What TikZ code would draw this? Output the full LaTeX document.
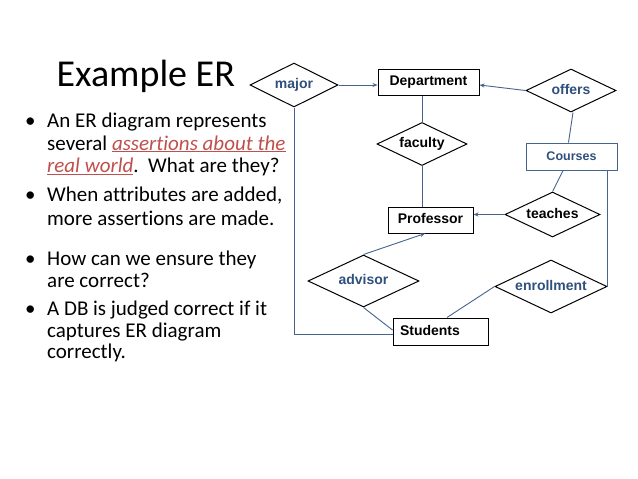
\documentclass[tikz,border=0pt]{standalone}
\usepackage{fontspec}
\setmainfont{Carlito}[Ligatures=NoCommon]
\newfontfamily\arialf{Liberation Sans}
\usetikzlibrary{shapes.geometric,arrows.meta,calc}
\definecolor{lineblue}{RGB}{70,100,140}
\definecolor{labblue}{RGB}{47,80,125}
\definecolor{redtxt}{RGB}{192,80,77}
\begin{document}
\begin{tikzpicture}[x=1pt,y=-1pt,
  ent/.style={draw=black,line width=1pt,rectangle,inner sep=0pt,
    text height=10pt,text depth=3pt,
    font=\arialf\bfseries\fontsize{14}{16}\selectfont},
  rel/.style={draw=black,line width=1pt,diamond,aspect=2,inner sep=0pt,
    text height=10pt,text depth=3pt,
    font=\arialf\bfseries\fontsize{14}{16}\selectfont},
  bluelab/.style={text=labblue},
  conn/.style={draw=lineblue,line width=0.9pt},
  arr/.style={conn,-{Stealth[length=5pt,width=4pt]}},
  body/.style={anchor=base west,inner sep=0pt,font=\fontsize{21}{25}\selectfont}]
\fill[white] (0,0) rectangle (638,479);
\useasboundingbox (0,0) rectangle (638,479);

% left text
\node[body] (title) at (56.5,86) {\fontsize{38}{45}\selectfont Example ER};
\node[body] (bu1) at (25,127) {\textbullet};
\node[body] (bu2) at (25,201.5) {\textbullet};
\node[body] (bu3) at (25,265) {\textbullet};
\node[body] (bu4) at (25,315) {\textbullet};
\node[body] (l1) at (47,127) {An ER diagram represents};
\node[body] (l2) at (47,150) {several \textcolor{redtxt}{\itshape\underline{assertions about the}}};
\node[body] (l3) at (47,172.5) {\textcolor{redtxt}{\itshape\underline{real world}}.\ \ What are they?};
\node[body] (l4) at (47,201.5) {When attributes are added,};
\node[body] (l5) at (47,225) {more assertions are made.};
\node[body] (l6) at (47,265) {How can we ensure they};
\node[body] (l7) at (47,287) {are correct?};
\node[body] (l8) at (47,315) {A DB is judged correct if it};
\node[body] (l9) at (47,337) {captures ER diagram};
\node[body] (l10) at (47,358.5) {correctly.};

% entities
\node[ent,minimum width=101pt,minimum height=26pt] (dept) at (428.5,82) {Department};
\node[ent,minimum width=85pt,minimum height=26pt] (prof) at (430.5,220) {Professor};
\node[ent,minimum height=27pt,inner xsep=7pt,text width=81pt,align=left] (stud) at (440.5,331.5) {Students};
\node[ent,draw=lineblue,bluelab,minimum width=91pt,minimum height=27pt,
  font=\arialf\bfseries\fontsize{12.5}{15}\selectfont] (courses) at (571.5,156.5) {Courses};

% relationships
\node[rel,bluelab,minimum width=88pt,minimum height=44pt] (major) at (294,85) {major};
\node[rel,minimum width=90pt,minimum height=43pt] (faculty) at (422,144) {faculty};
\node[rel,bluelab,minimum width=90pt,minimum height=43pt] (offers) at (571,90.5) {offers};
\node[rel,minimum width=95pt,minimum height=45pt] (teaches) at (552.5,214.5) {teaches};
\node[rel,bluelab,minimum width=111pt,minimum height=52pt] (advisor) at (363.5,281) {advisor};
\node[rel,bluelab,minimum width=112pt,minimum height=53pt] (enroll) at (551,286.5) {enrollment};

% connectors
\draw[arr] (major.east) -- (major.east -| dept.west);
\draw[conn] (faculty.north |- dept.south) -- (faculty.north);
\draw[conn] (faculty.south) -- (faculty.south |- prof.north);
\draw[arr] (offers.west) -- ([yshift=-3pt]dept.east);
\draw[conn] ([xshift=2pt]offers.south) -- ([xshift=-3pt]courses.north);
\draw[conn] ([xshift=-8.5pt]courses.south) -- (teaches.north);
\draw[arr] (teaches.west) -- (teaches.west -| prof.east);
\draw[conn] (enroll.east) -- (enroll.east |- courses.south);
\draw[conn] (enroll.west) -- ([xshift=6.5pt]stud.north);
\draw[arr] (advisor.north) -- ([xshift=-5.5pt]prof.south);
\draw[conn] (advisor.south) -- ([yshift=1.5pt]stud.west);
\draw[conn] (major.south) |- ([yshift=-2.5pt]stud.west);
\end{tikzpicture}
\end{document}
